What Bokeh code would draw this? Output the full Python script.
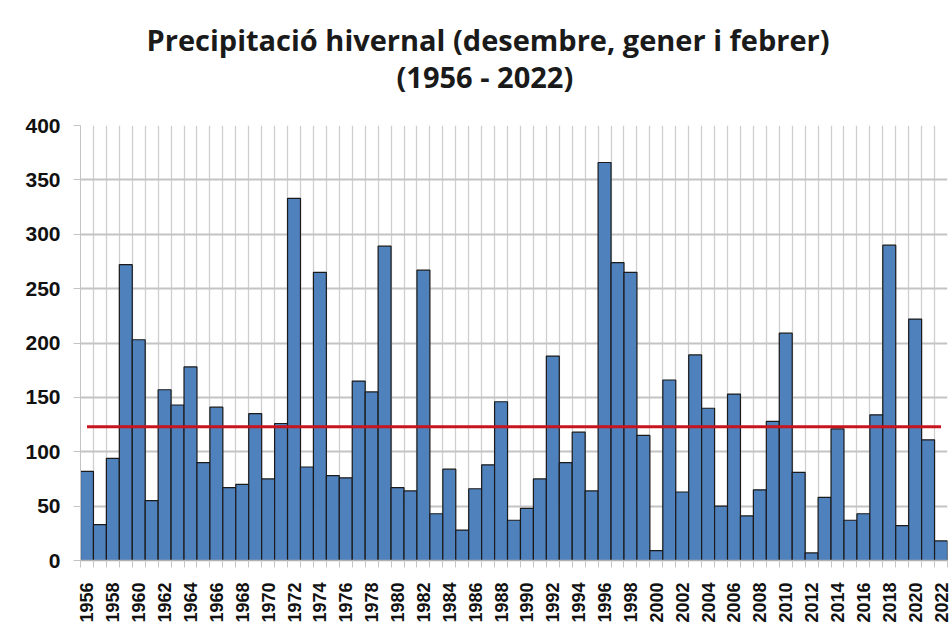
from bokeh.plotting import figure
from bokeh.models import FixedTicker, Range1d, ColumnDataSource, Title
from bokeh.embed import file_html
from bokeh.resources import INLINE

# ---- data ----
years = list(range(1956, 2023))
precip = [82, 33, 94, 272, 203, 55, 157, 143, 178, 90,
          141, 67, 70, 135, 75, 126, 333, 86, 265, 78,
          76, 165, 155, 289, 67, 64, 267, 43, 84, 28,
          66, 88, 146, 37, 48, 75, 188, 90, 118, 64,
          366, 274, 265, 115, 9, 166, 63, 189, 140, 50,
          153, 41, 65, 128, 209, 81, 7, 58, 121, 37,
          43, 134, 290, 32, 222, 111, 18]
mitjana = 123
y_ticks = [0, 50, 100, 150, 200, 250, 300, 350, 400]
title_line1 = "Precipitació hivernal (desembre, gener i febrer)"
title_line2 = "(1956 - 2022)"

src = ColumnDataSource(dict(year=years, precip=precip))

p = figure(width=951, height=626, output_backend="svg", toolbar_location=None,
           x_range=Range1d(years[0] - 0.5, years[-1] + 0.5),
           y_range=Range1d(y_ticks[0], y_ticks[-1]),
           min_border_left=80, min_border_right=4, min_border_top=125, min_border_bottom=66)
p.outline_line_color = None
p.background_fill_color = "white"
p.border_fill_color = "white"

grid_col = "#c4c4c4"
boundaries = [y - 0.5 for y in years] + [years[-1] + 0.5]

# x axis
p.xaxis.ticker = FixedTicker(ticks=years[::2], minor_ticks=boundaries)
p.xaxis.major_tick_out = 0
p.xaxis.major_tick_in = 0
p.xaxis.minor_tick_out = 7
p.xaxis.minor_tick_in = 0
p.xaxis.minor_tick_line_color = grid_col
p.xaxis.axis_line_color = "#b0b0b0"
p.xaxis.axis_line_width = 1.5
p.xaxis.major_label_orientation = 1.5707963
p.xaxis.major_label_standoff = 15
p.xaxis.major_label_text_font = "Liberation Sans"
p.xaxis.major_label_text_font_style = "bold"
p.xaxis.major_label_text_font_size = "18px"
p.xaxis.major_label_text_color = "#111111"

# y axis
p.yaxis.ticker = FixedTicker(ticks=y_ticks)
p.yaxis.major_tick_out = 7
p.yaxis.major_tick_in = 0
p.yaxis.minor_tick_out = 0
p.yaxis.minor_tick_in = 0
p.yaxis.major_tick_line_color = grid_col
p.yaxis.axis_line_color = grid_col
p.yaxis.major_label_standoff = 13
p.yaxis.major_label_text_font = "Liberation Sans"
p.yaxis.major_label_text_font_style = "bold"
p.yaxis.major_label_text_font_size = "21px"
p.yaxis.major_label_text_color = "#111111"

# grids
p.xgrid.ticker = FixedTicker(ticks=boundaries)
p.xgrid.grid_line_color = "#cfcfcf"
p.xgrid.grid_line_width = 1.3
p.ygrid.ticker = FixedTicker(ticks=y_ticks)
p.ygrid.grid_line_color = grid_col
p.ygrid.grid_line_width = 1.8

# bars
p.vbar(x="year", top="precip", width=1.0, bottom=0, source=src,
       fill_color="#4f81bd", line_color="#1a1a1a", line_width=1.2)

# mean line
p.line(x=[years[0], years[-1]], y=[mitjana, mitjana], line_color="#c8141e", line_width=3)

# title (two lines; the one added first sits closest to the plot)
t2 = Title(text=title_line2, align="left", offset=316, standoff=60,
           text_font="Open Sans", text_font_style="bold", text_font_size="29px", text_color="#1a1a1a")
t1 = Title(text=title_line1, align="left", offset=66, standoff=-69,
           text_font="Open Sans", text_font_style="bold", text_font_size="29px", text_color="#1a1a1a")
p.add_layout(t2, "above")
p.add_layout(t1, "above")

open("out.html", "w").write(file_html(p, INLINE))
